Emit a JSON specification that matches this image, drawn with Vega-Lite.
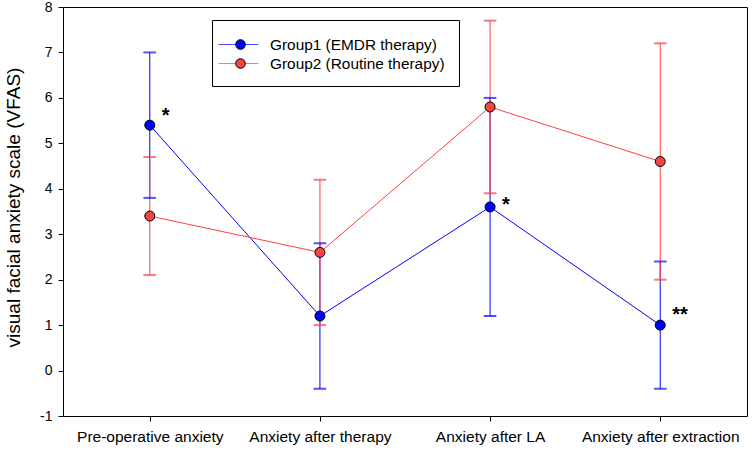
{
  "$schema": "https://vega.github.io/schema/vega-lite/v6.json",
  "width": 684,
  "height": 409,
  "autosize": {"type": "none"},
  "padding": {"left": 63, "top": 7, "right": 6, "bottom": 36},
  "background": "white",
  "config": {
    "view": {"stroke": "black", "strokeWidth": 1},
    "font": "Liberation Sans",
    "axis": {"labelFont": "Liberation Sans", "titleFont": "Liberation Sans", "labelColor": "black", "titleColor": "black", "tickColor": "black", "grid": false, "domain": false}
  },
  "datasets": {
    "vfas": [
      {"group": "Group1 (EMDR therapy)", "phase": "Pre-operative anxiety", "mean": 5.4, "lo": 3.8, "hi": 7.0},
      {"group": "Group1 (EMDR therapy)", "phase": "Anxiety after therapy", "mean": 1.2, "lo": -0.4, "hi": 2.8},
      {"group": "Group1 (EMDR therapy)", "phase": "Anxiety after LA", "mean": 3.6, "lo": 1.2, "hi": 6.0},
      {"group": "Group1 (EMDR therapy)", "phase": "Anxiety after extraction", "mean": 1.0, "lo": -0.4, "hi": 2.4},
      {"group": "Group2 (Routine therapy)", "phase": "Pre-operative anxiety", "mean": 3.4, "lo": 2.1, "hi": 4.7},
      {"group": "Group2 (Routine therapy)", "phase": "Anxiety after therapy", "mean": 2.6, "lo": 1.0, "hi": 4.2},
      {"group": "Group2 (Routine therapy)", "phase": "Anxiety after LA", "mean": 5.8, "lo": 3.9, "hi": 7.7},
      {"group": "Group2 (Routine therapy)", "phase": "Anxiety after extraction", "mean": 4.6, "lo": 2.0, "hi": 7.2}
    ],
    "marks": [
      {"phase": "Pre-operative anxiety", "y": 5.47, "label": "*"},
      {"phase": "Anxiety after LA", "y": 3.51, "label": "*"},
      {"phase": "Anxiety after extraction", "y": 1.09, "label": "**"}
    ]
  },
  "data": {"name": "vfas"},
  "encoding": {
    "x": {
      "field": "phase", "type": "nominal",
      "sort": ["Pre-operative anxiety", "Anxiety after therapy", "Anxiety after LA", "Anxiety after extraction"],
      "scale": {"type": "point", "padding": 0.51},
      "axis": {"title": null, "labelAngle": 0, "labelFontSize": 15.5, "tickSize": 5, "labelPadding": 8}
    },
    "y": {
      "field": "mean", "type": "quantitative",
      "scale": {"domain": [-1, 8], "nice": false, "zero": false},
      "axis": {
        "title": "visual facial anxiety scale (VFAS)", "titleFontSize": 19, "titleFontWeight": "normal",
        "titleX": -50, "titleY": 200, "titleAngle": -90, "titleBaseline": "middle", "titleAlign": "center",
        "values": [-1, 0, 1, 2, 3, 4, 5, 6, 7, 8], "labelExpr": "'' + datum.value",
        "labelFontSize": 14, "tickSize": 5, "labelPadding": 6
      }
    }
  },
  "layer": [
    {
      "mark": {"type": "rule", "strokeWidth": 1},
      "encoding": {
        "y": {"field": "lo", "type": "quantitative"},
        "y2": {"field": "hi"},
        "stroke": {"field": "group", "type": "nominal",
          "scale": {"domain": ["Group1 (EMDR therapy)", "Group2 (Routine therapy)"], "range": ["#0000ff", "#ff4040"]},
          "legend": {
            "title": null, "orient": "none", "legendX": 149, "legendY": 13, "zindex": 0,
            "symbolType": "M-1.8,0H2.2", "symbolSize": 400, "symbolStrokeWidth": 1,
            "labelFont": "Liberation Sans", "labelFontSize": 15.4, "labelColor": "black", "labelOffset": 23, "labelLimit": 400,
            "strokeColor": "black", "fillColor": "white", "padding": 14, "rowPadding": 0
          }
        }
      }
    },
    {
      "mark": {"type": "tick", "orient": "horizontal", "size": 12, "thickness": 1},
      "encoding": {
        "y": {"field": "hi", "type": "quantitative"},
        "stroke": {"field": "group", "type": "nominal"}
      }
    },
    {
      "mark": {"type": "tick", "orient": "horizontal", "size": 12, "thickness": 1},
      "encoding": {
        "y": {"field": "lo", "type": "quantitative"},
        "stroke": {"field": "group", "type": "nominal"}
      }
    },
    {
      "mark": {"type": "line", "strokeWidth": 1},
      "encoding": {
        "stroke": {"field": "group", "type": "nominal"}
      }
    },
    {
      "mark": {"type": "point", "filled": true, "size": 100, "stroke": "black", "strokeWidth": 1, "opacity": 1},
      "encoding": {
        "fill": {"field": "group", "type": "nominal",
          "scale": {"range": ["#0000ff", "#f24444"]},
          "legend": {
            "title": null, "orient": "none", "legendX": 149, "legendY": 13, "zindex": 1,
            "symbolType": "M-0.08,0A0.48,0.48 0 1,0 0.88,0A0.48,0.48 0 1,0 -0.08,0Z", "symbolSize": 400,
            "symbolStrokeColor": "black", "symbolStrokeWidth": 1,
            "labelFont": "Liberation Sans", "labelFontSize": 15.4, "labelOpacity": 0, "labelOffset": 23, "labelLimit": 400,
            "padding": 14, "rowPadding": 0
          }
        }
      }
    },
    {
      "data": {"name": "marks"},
      "mark": {"type": "text", "align": "left", "baseline": "alphabetic", "dx": 12, "fontSize": 20, "fontWeight": "bold", "color": "black"},
      "encoding": {
        "y": {"field": "y", "type": "quantitative"},
        "text": {"field": "label"}
      }
    }
  ]
}
